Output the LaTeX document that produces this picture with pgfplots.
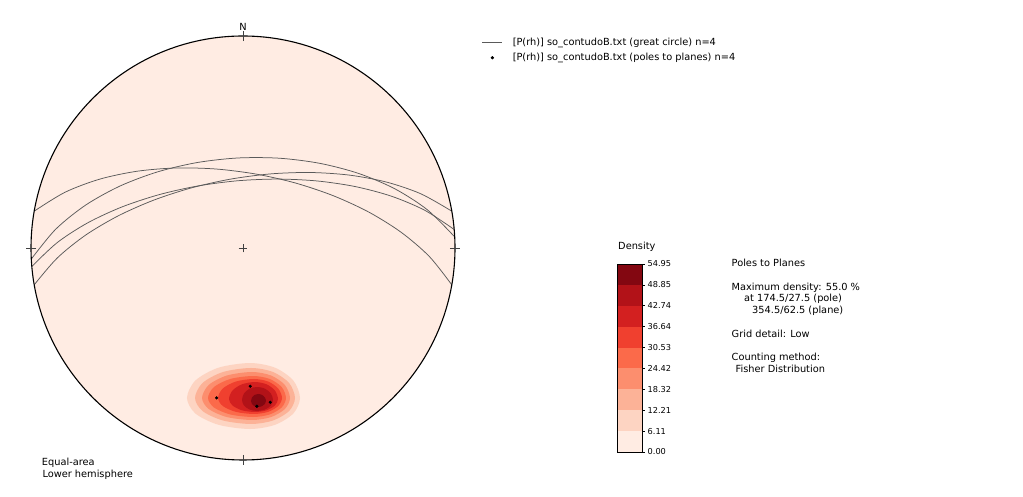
\documentclass[border=0pt]{standalone}
\usepackage{pgfplots}
\pgfplotsset{compat=1.18}
\usepackage{fontspec}
\setmainfont{DejaVu Sans}

\definecolor{c1}{RGB}{255,236,227}
\definecolor{c2}{RGB}{253,212,194}
\definecolor{c3}{RGB}{252,178,151}
\definecolor{c4}{RGB}{252,142,110}
\definecolor{c5}{RGB}{251,106,74}
\definecolor{c6}{RGB}{240,64,47}
\definecolor{c7}{RGB}{211,32,32}
\definecolor{c8}{RGB}{178,18,24}
\definecolor{c9}{RGB}{131,7,17}
\definecolor{gc}{RGB}{90,90,90}

\pgfplotsset{
  gclegend/.style={legend image code/.code={\draw[##1] (0pt,0pt) -- (20pt,0pt);}},
  ptlegend/.style={legend image code/.code={\draw[##1] plot coordinates {(10pt,0pt)};}},
}

\begin{document}
\begin{tikzpicture}[font=\fontsize{9.8}{11.8}\selectfont]
\useasboundingbox (0,0) rectangle (1023pt,497pt);
% ---------------- stereonet ----------------
\begin{axis}[
  at={(31pt,37pt)}, anchor=south west,
  scale only axis, width=424pt, height=424pt,
  xmin=-1, xmax=1, ymin=-1, ymax=1,
  hide axis, clip=false,
  legend cell align=left,
  legend style={at={(axis description cs:1.0637,0.9953)}, anchor=north west,
    draw=none, fill=none, inner sep=0pt, outer sep=0pt,
    row sep=5.5pt, column sep=10pt,
    font=\fontsize{9.8}{11.8}\selectfont,
    nodes={inner sep=0pt, text height=7.5pt, text depth=2pt}},
]
\fill[c1] (axis cs:0,0) circle [radius=212pt];
% density contours (filled, nested)
\addplot[fill=c2, draw=none, smooth cycle, forget plot] coordinates {
 (0.2689,-0.7075) (0.2373,-0.6250) (0.1509,-0.5646) (0.0330,-0.5425) (-0.1156,-0.5646) (-0.2245,-0.6250)
 (-0.2642,-0.7075) (-0.2245,-0.7807) (-0.1156,-0.8340) (0.0330,-0.8538) (0.1509,-0.8340) (0.2373,-0.7807)};
\addplot[fill=c3, draw=none, smooth cycle, forget plot] coordinates {
 (0.2453,-0.7075) (0.2175,-0.6368) (0.1415,-0.5849) (0.0377,-0.5660) (-0.0943,-0.5849) (-0.1910,-0.6368)
 (-0.2264,-0.7075) (-0.1910,-0.7689) (-0.0943,-0.8137) (0.0377,-0.8302) (0.1415,-0.8137) (0.2175,-0.7689)};
\addplot[fill=c4, draw=none, smooth cycle, forget plot] coordinates {
 (0.2217,-0.7075) (0.1976,-0.6462) (0.1321,-0.6014) (0.0425,-0.5849) (-0.0755,-0.6014) (-0.1618,-0.6462)
 (-0.1934,-0.7075) (-0.1618,-0.7594) (-0.0755,-0.7976) (0.0425,-0.8113) (0.1321,-0.7976) (0.1976,-0.7594)};
\addplot[fill=c5, draw=none, smooth cycle, forget plot] coordinates {
 (0.2028,-0.7075) (0.1821,-0.6557) (0.1250,-0.6175) (0.0472,-0.6038) (-0.0590,-0.6175) (-0.1368,-0.6557)
 (-0.1651,-0.7075) (-0.1368,-0.7524) (-0.0590,-0.7854) (0.0472,-0.7972) (0.1250,-0.7854) (0.1821,-0.7524)};
\addplot[fill=c6, draw=none, smooth cycle, forget plot] coordinates {
 (0.1840,-0.7075) (0.1660,-0.6627) (0.1179,-0.6297) (0.0519,-0.6179) (-0.0330,-0.6297) (-0.0953,-0.6627)
 (-0.1179,-0.7075) (-0.0953,-0.7453) (-0.0330,-0.7731) (0.0519,-0.7830) (0.1179,-0.7731) (0.1660,-0.7453)};
\addplot[fill=c7, draw=none, smooth cycle, forget plot] coordinates {
 (0.1651,-0.7123) (0.1505,-0.6722) (0.1108,-0.6429) (0.0566,-0.6321) (-0.0047,-0.6429) (-0.0495,-0.6722)
 (-0.0660,-0.7123) (-0.0495,-0.7429) (-0.0047,-0.7656) (0.0566,-0.7736) (0.1108,-0.7656) (0.1505,-0.7429)};
\addplot[fill=c8, draw=none, smooth cycle, forget plot] coordinates {
 (0.1415,-0.7170) (0.1316,-0.6863) (0.1038,-0.6637) (0.0660,-0.6557) (0.0307,-0.6637) (0.0047,-0.6863)
 (-0.0047,-0.7170) (0.0047,-0.7429) (0.0307,-0.7618) (0.0660,-0.7689) (0.1038,-0.7618) (0.1316,-0.7429)};
\addplot[fill=c9, draw=none, smooth cycle, forget plot] coordinates {
 (0.1085,-0.7217) (0.1033,-0.7052) (0.0896,-0.6929) (0.0708,-0.6887) (0.0542,-0.6929) (0.0420,-0.7052)
 (0.0377,-0.7217) (0.0420,-0.7358) (0.0542,-0.7462) (0.0708,-0.7500) (0.0896,-0.7462) (0.1033,-0.7358)};
% great circles
\addplot[gc, line width=0.75pt, smooth, gclegend] coordinates {
 (-0.9848,0.1737) (-0.8393,0.2630) (-0.6763,0.3246) (-0.5006,0.3619) (-0.3164,0.3774) (-0.1278,0.3726)
 (0.0615,0.3487) (0.2475,0.3065) (0.4264,0.2464) (0.5942,0.1689) (0.7465,0.0737) (0.8787,-0.0399) (0.9848,-0.1737)};
\addlegendentry{[P(rh)] so\_contudoB.txt (great circle) n=4}
\addplot[gc, line width=0.75pt, smooth, forget plot] coordinates {
 (-0.9986,-0.0523) (-0.8833,0.0887) (-0.7411,0.2031) (-0.5788,0.2929) (-0.4018,0.3594) (-0.2148,0.4033)
 (-0.0223,0.4247) (0.1715,0.4235) (0.3620,0.3994) (0.5450,0.3518) (0.7158,0.2794) (0.8691,0.1806) (0.9986,0.0523)};
\addplot[gc, line width=0.75pt, smooth, forget plot] coordinates {
 (-0.9962,-0.0872) (-0.8756,0.0260) (-0.7325,0.1187) (-0.5719,0.1933) (-0.3983,0.2509) (-0.2157,0.2921)
 (-0.0277,0.3169) (0.1616,0.3251) (0.3487,0.3163) (0.5297,0.2897) (0.7007,0.2441) (0.8578,0.1776) (0.9962,0.0872)};
\addplot[gc, line width=0.75pt, smooth, forget plot] coordinates {
 (-0.9848,-0.1737) (-0.8759,-0.0469) (-0.7422,0.0609) (-0.5891,0.1514) (-0.4213,0.2257) (-0.2427,0.2837)
 (-0.0573,0.3251) (0.1310,0.3496) (0.3187,0.3561) (0.5018,0.3438) (0.6766,0.3110) (0.8391,0.2555) (0.9848,0.1737)};
% primitive circle
\draw[black, line width=1.1pt] (axis cs:0,0) circle [radius=212pt];
% poles to planes
\addplot[only marks, mark=*, mark size=1.4pt, black, ptlegend] coordinates {
 (-0.1246,-0.7069) (0.0342,-0.6521) (0.0653,-0.7466) (0.1283,-0.7277)};
\addlegendentry{[P(rh)] so\_contudoB.txt (poles to planes) n=4}
% cardinal ticks and centre cross
\draw[black!75, line width=0.6pt] (axis cs:0,0.976) -- (axis cs:0,1.024);
\draw[black!75, line width=0.6pt] (axis cs:0,-0.976) -- (axis cs:0,-1.024);
\draw[black!75, line width=0.6pt] (axis cs:0.976,0) -- (axis cs:1.024,0);
\draw[black!75, line width=0.6pt] (axis cs:-0.976,0) -- (axis cs:-1.024,0);
\draw[black!75, line width=0.6pt] (axis cs:-0.021,0) -- (axis cs:0.021,0);
\draw[black!75, line width=0.6pt] (axis cs:0,-0.021) -- (axis cs:0,0.021);
\node[anchor=base, inner sep=0pt] at (axis cs:0,1.028) {N};
\end{axis}
% ---------------- colour bar ----------------
\begin{axis}[
  at={(617pt,45pt)}, anchor=south west,
  scale only axis, width=25pt, height=188pt,
  xmin=0, xmax=1, ymin=0, ymax=54.95,
  xtick=\empty,
  ytick={0,6.11,12.21,18.32,24.42,30.53,36.64,42.74,48.85,54.95},
  yticklabels={0.00,6.11,12.21,18.32,24.42,30.53,36.64,42.74,48.85,54.95},
  ytick pos=right, yticklabel pos=right,
  tick align=outside, major tick length=2.5pt,
  yticklabel style={font=\fontsize{8.2}{9.8}\selectfont, inner sep=0pt, xshift=3pt},
  axis on top, axis line style={line width=0.8pt},
  tick style={black, line width=0.6pt},
]
\addplot[fill=c1, draw=none] coordinates {(0,0) (1,0) (1,6.11) (0,6.11)} --cycle;
\addplot[fill=c2, draw=none] coordinates {(0,6.11) (1,6.11) (1,12.21) (0,12.21)} --cycle;
\addplot[fill=c3, draw=none] coordinates {(0,12.21) (1,12.21) (1,18.32) (0,18.32)} --cycle;
\addplot[fill=c4, draw=none] coordinates {(0,18.32) (1,18.32) (1,24.42) (0,24.42)} --cycle;
\addplot[fill=c5, draw=none] coordinates {(0,24.42) (1,24.42) (1,30.53) (0,30.53)} --cycle;
\addplot[fill=c6, draw=none] coordinates {(0,30.53) (1,30.53) (1,36.64) (0,36.64)} --cycle;
\addplot[fill=c7, draw=none] coordinates {(0,36.64) (1,36.64) (1,42.74) (0,42.74)} --cycle;
\addplot[fill=c8, draw=none] coordinates {(0,42.74) (1,42.74) (1,48.85) (0,48.85)} --cycle;
\addplot[fill=c9, draw=none] coordinates {(0,48.85) (1,48.85) (1,54.95) (0,54.95)} --cycle;
\end{axis}
\node[anchor=base west, inner sep=0pt] at (618pt,247.5pt) {Density};
% ---------------- text ----------------
\node[anchor=base west, inner sep=0pt] at (731.5pt,230.5pt) {Poles to Planes};
\node[anchor=base west, inner sep=0pt] at (731.5pt,206.9pt) {Maximum density: 55.0 \%};
\node[anchor=base west, inner sep=0pt] at (744pt,195.1pt) {at 174.5/27.5 (pole)};
\node[anchor=base west, inner sep=0pt] at (752pt,183.3pt) {354.5/62.5 (plane)};
\node[anchor=base west, inner sep=0pt] at (731.5pt,159.7pt) {Grid detail: Low};
\node[anchor=base west, inner sep=0pt] at (731.5pt,136.1pt) {Counting method:};
\node[anchor=base west, inner sep=0pt] at (735.5pt,124.3pt) {Fisher Distribution};
\node[anchor=base west, inner sep=0pt] at (41.7pt,31.5pt) {Equal-area};
\node[anchor=base west, inner sep=0pt] at (42.3pt,19.7pt) {Lower hemisphere};
\end{tikzpicture}
\end{document}
